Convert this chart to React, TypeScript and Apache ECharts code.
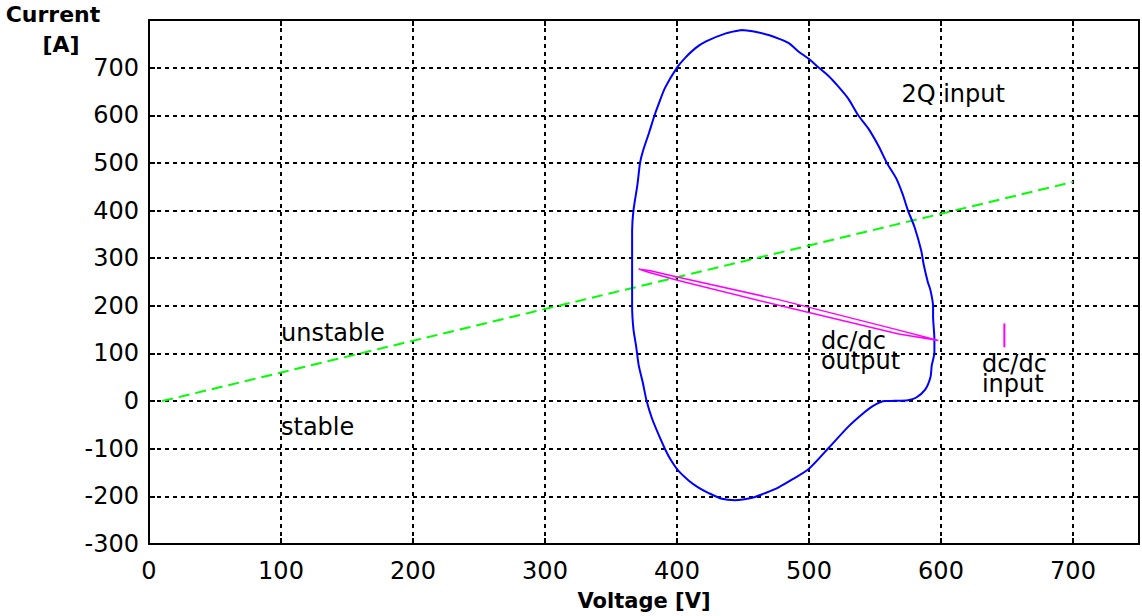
import React, { useEffect, useRef } from "react";
import * as echarts from "echarts";

const X_TICKS = [0, 100, 200, 300, 400, 500, 600, 700];
const Y_TICKS = [-300, -200, -100, 0, 100, 200, 300, 400, 500, 600, 700];

// stability boundary (green dashed)
const stabilityBoundary: number[][] = [
  [10, 0],
  [700, 460],
];

// 2Q input trajectory (blue closed loop)
const loop2QInput: number[][] = [
  [449, 779], [460, 775], [470, 768], [477, 761], [485, 751], [492, 734],
  [500, 718], [507, 701], [515, 682], [522, 661], [530, 634], [537, 601],
  [545, 572], [553, 534], [559, 500], [566, 468], [571, 434], [575, 400],
  [580, 365], [585, 316], [587, 285], [590, 250], [592, 233], [594, 199],
  [594, 178], [595, 130], [595, 102], [593, 75], [592, 50], [588, 24],
  [581, 7], [575, 2], [565, 0.5], [557, 0], [548, -11], [540, -28],
  [530, -53], [515, -98], [500, -142], [487, -165], [477, -181], [467, -193],
  [457, -203], [444, -208], [434, -205], [424, -193], [416, -181], [409, -167],
  [401, -146], [395, -122], [391, -101], [386, -70], [381, -36], [377, 0],
  [374, 40], [371, 75], [369, 116], [367, 151], [366, 199], [366, 302],
  [366, 358], [367, 400], [370, 454], [372, 500], [374, 523], [379, 565],
  [383, 600], [386, 623], [391, 658], [400, 700], [406, 720], [414, 741],
  [422, 755], [437, 772], [449, 779],
];

// dc/dc output trajectory (magenta thin loop)
const dcdcOutputLoop: number[][] = [
  [371, 277], [379, 274], [401, 260], [477, 213], [568, 149], [598, 127],
  [568, 141], [477, 201], [401, 253], [379, 270], [371, 277],
];

// dc/dc input (magenta short vertical segment)
const dcdcInputLine: number[][] = [
  [648, 113],
  [648, 163],
];

const annotationLabels = ["2Q input", "unstable", "stable", "dc/dc\noutput", "dc/dc\ninput"];
const annotationPoints: number[][] = [
  [570, 645],
  [100, 143],
  [100, -55],
  [509, 106],
  [631, 56],
];

const FONT = '"DejaVu Sans", "Liberation Sans", Arial, sans-serif';

export default function App() {
  const ref = useRef<HTMLDivElement>(null);

  useEffect(() => {
    if (!ref.current) return;
    const chart = echarts.init(ref.current, undefined, { renderer: "svg" });

    const axisLine = { show: true, onZero: false, lineStyle: { color: "#000", width: 2 } };
    const axisTick = { show: true, inside: true, length: 6, lineStyle: { color: "#000", width: 2 } };
    const splitLine = { show: true, lineStyle: { color: "#000", width: 2, type: [4, 4] } };

    const option: any = {
      animation: false,
      backgroundColor: "#fff",
      grid: { left: 149, right: 2, top: 20, bottom: 65, containLabel: false },
      xAxis: [
        {
          type: "value",
          min: 0,
          max: 750,
          interval: 100,
          position: "bottom",
          axisLine,
          axisTick,
          splitLine,
          axisLabel: {
            fontSize: 24,
            fontFamily: FONT,
            color: "#000",
            margin: 15,
            formatter: (v: number) => (X_TICKS.includes(v) ? String(v) : ""),
          },
          name: "Voltage [V]",
          nameLocation: "middle",
          nameGap: 46,
          nameTextStyle: { fontSize: 21, fontWeight: "bold", fontFamily: FONT, color: "#000" },
        },
        {
          type: "value",
          min: 0,
          max: 750,
          interval: 100,
          position: "top",
          axisLine,
          axisTick,
          splitLine: { show: false },
          axisLabel: { show: false },
        },
      ],
      yAxis: [
        {
          type: "value",
          min: -300,
          max: 800,
          interval: 100,
          position: "left",
          axisLine,
          axisTick,
          splitLine,
          axisLabel: {
            fontSize: 24,
            fontFamily: FONT,
            color: "#000",
            margin: 10,
            formatter: (v: number) => (Y_TICKS.includes(v) ? String(v) : ""),
          },
        },
        {
          type: "value",
          min: -300,
          max: 800,
          interval: 100,
          position: "right",
          axisLine,
          axisTick,
          splitLine: { show: false },
          axisLabel: { show: false },
        },
      ],
      graphic: [
        {
          type: "text",
          style: {
            text: "Current",
            x: 53,
            y: 14,
            align: "center",
            verticalAlign: "middle",
            textAlign: "center",
            textVerticalAlign: "middle",
            font: `bold 22px ${FONT}`,
            fill: "#000",
          },
        },
        {
          type: "text",
          style: {
            text: "[A]",
            x: 61,
            y: 44,
            align: "center",
            verticalAlign: "middle",
            textAlign: "center",
            textVerticalAlign: "middle",
            font: `bold 22px ${FONT}`,
            fill: "#000",
          },
        },
      ],
      series: [
        {
          type: "line",
          name: "stability boundary",
          data: stabilityBoundary,
          symbol: "none",
          silent: true,
          lineStyle: { color: "#00ff00", width: 2, type: [11, 6] },
          z: 3,
        },
        {
          type: "line",
          name: "2Q input",
          data: loop2QInput,
          symbol: "none",
          smooth: 0.25,
          silent: true,
          lineStyle: { color: "#0000ff", width: 2 },
          z: 4,
        },
        {
          type: "line",
          name: "dc/dc output",
          data: dcdcOutputLoop,
          symbol: "none",
          silent: true,
          lineStyle: { color: "#ff00ff", width: 1.5 },
          z: 5,
        },
        {
          type: "line",
          name: "dc/dc input",
          data: dcdcInputLine,
          symbol: "none",
          silent: true,
          lineStyle: { color: "#ff00ff", width: 2 },
          z: 5,
        },
        {
          type: "scatter",
          name: "annotations",
          symbolSize: 0,
          silent: true,
          itemStyle: { opacity: 1 },
          data: annotationPoints.map((p, i) => ({ value: p, name: annotationLabels[i] })),
          label: {
            show: true,
            position: "right",
            distance: 0,
            formatter: (p: any) => p.name,
            fontSize: 24,
            lineHeight: 20,
            fontFamily: FONT,
            color: "#000",
            opacity: 1,
            align: "left",
            verticalAlign: "middle",
          },
          z: 6,
        },
      ],
    };

    chart.setOption(option);
    return () => chart.dispose();
  }, []);

  return (
    <div
      ref={ref}
      style={{ position: "fixed", left: 0, top: 0, width: 1142, height: 616, background: "#fff" }}
    />
  );
}
